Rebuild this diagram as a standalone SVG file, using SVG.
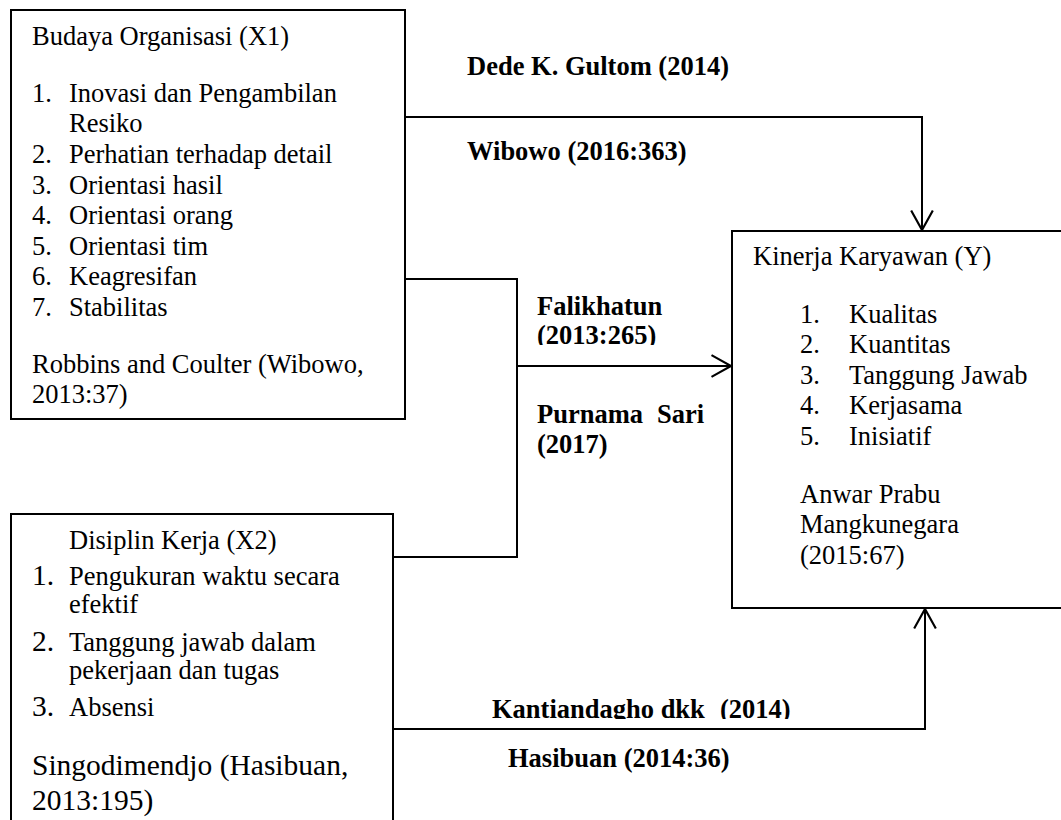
<svg xmlns="http://www.w3.org/2000/svg" width="1061" height="820" viewBox="0 0 1061 820">
<style>
.box{fill:#fff;stroke:#000;stroke-width:2}
.t{font-family:"Liberation Serif","Times New Roman",serif;font-size:26.5px;fill:#000}
.b{font-family:"Liberation Serif","Times New Roman",serif;font-size:26.5px;font-weight:bold;fill:#000}
.big{font-size:29.5px}
.conn{fill:none;stroke:#000;stroke-width:2}
</style>
<defs>
<marker id="arr" markerUnits="userSpaceOnUse" markerWidth="24" markerHeight="26" viewBox="-20 -12 22 24" refX="0" refY="0" orient="auto" overflow="visible">
<path d="M-18,-10 L0,0 L-18,10" fill="none" stroke="#000" stroke-width="2"/>
</marker>
<clipPath id="clipF"><rect x="520" y="280" width="200" height="65"/></clipPath>
<clipPath id="clipK"><rect x="480" y="680" width="330" height="39"/></clipPath>
</defs>
<rect width="1061" height="820" fill="#fff"/>

<g id="connectors">
<path class="conn" d="M405,117 H922 V230" marker-end="url(#arr)"/>
<path class="conn" d="M405,279 H517 V557 H393"/>
<path class="conn" d="M517,366 H731" marker-end="url(#arr)"/>
<path class="conn" d="M393,729 H925 V609" marker-end="url(#arr)"/>
</g>

<g id="labels">
<text class="b" x="467" y="75">Dede K. Gultom (2014)</text>
<text class="b" x="467" y="160">Wibowo (2016:363)</text>
<text class="b" x="537" y="315">Falikhatun</text>
<text class="b" x="537" y="344" clip-path="url(#clipF)">(2013:265)</text>
<text class="b" x="537" y="423">Purnama</text>
<text class="b" x="657" y="423">Sari</text>
<text class="b" x="537" y="453">(2017)</text>
<g clip-path="url(#clipK)">
<text class="b" x="492" y="718">Kantiandagho dkk</text>
<text class="b" x="720" y="718">(2014)</text>
</g>
<text class="b" x="508" y="767">Hasibuan (2014:36)</text>
</g>

<g id="x1">
<rect class="box" x="11" y="10" width="394" height="409"/>
<text class="t" x="32" y="45">Budaya Organisasi (X1)</text>
<text class="t" x="32" y="102">1.</text><text class="t" x="69" y="102">Inovasi dan Pengambilan</text>
<text class="t" x="69" y="132">Resiko</text>
<text class="t" x="32" y="163">2.</text><text class="t" x="69" y="163">Perhatian terhadap detail</text>
<text class="t" x="32" y="194">3.</text><text class="t" x="69" y="194">Orientasi hasil</text>
<text class="t" x="32" y="224">4.</text><text class="t" x="69" y="224">Orientasi orang</text>
<text class="t" x="32" y="255">5.</text><text class="t" x="69" y="255">Orientasi tim</text>
<text class="t" x="32" y="285">6.</text><text class="t" x="69" y="285">Keagresifan</text>
<text class="t" x="32" y="316">7.</text><text class="t" x="69" y="316">Stabilitas</text>
<text class="t" x="32" y="373">Robbins and Coulter (Wibowo,</text>
<text class="t" x="32" y="403">2013:37)</text>
</g>

<g id="x2">
<rect class="box" x="11" y="514" width="382" height="330"/>
<text class="t" x="69" y="549">Disiplin Kerja (X2)</text>
<text class="t big" x="32" y="585">1.</text><text class="t" x="69" y="585">Pengukuran waktu secara</text>
<text class="t" x="69" y="613">efektif</text>
<text class="t big" x="32" y="651">2.</text><text class="t" x="69" y="651">Tanggung jawab dalam</text>
<text class="t" x="69" y="679">pekerjaan dan tugas</text>
<text class="t big" x="32" y="716">3.</text><text class="t" x="69" y="716">Absensi</text>
<text class="t big" x="32" y="775">Singodimendjo (Hasibuan,</text>
<text class="t big" x="32" y="810">2013:195)</text>
</g>

<g id="y">
<rect class="box" x="732" y="231" width="345" height="377"/>
<text class="t" x="753" y="265">Kinerja Karyawan (Y)</text>
<text class="t" x="800" y="323">1.</text><text class="t" x="849" y="323">Kualitas</text>
<text class="t" x="800" y="353">2.</text><text class="t" x="849" y="353">Kuantitas</text>
<text class="t" x="800" y="384">3.</text><text class="t" x="849" y="384">Tanggung Jawab</text>
<text class="t" x="800" y="414">4.</text><text class="t" x="849" y="414">Kerjasama</text>
<text class="t" x="800" y="445">5.</text><text class="t" x="849" y="445">Inisiatif</text>
<text class="t" x="800" y="503">Anwar Prabu</text>
<text class="t" x="800" y="533">Mangkunegara</text>
<text class="t" x="800" y="564">(2015:67)</text>
</g>
</svg>
